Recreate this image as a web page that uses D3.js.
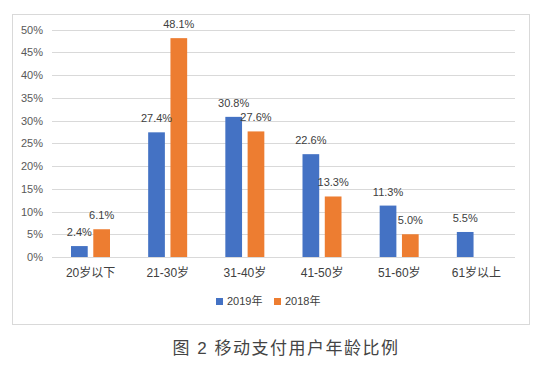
<!DOCTYPE html>
<meta charset="utf-8">
<script src="https://d3js.org/d3.v7.min.js"></script>
<style>
  body { margin: 0; background: #fff; }
  text { font-family: "Liberation Sans", "Noto Sans CJK SC", sans-serif; }
</style>
<body>
<div id="chart"></div>
<script>
    var categories = ["20岁以下", "21-30岁", "31-40岁", "41-50岁", "51-60岁", "61岁以上"];
    var seriesNames = ["2019年", "2018年"];
    var values2019 = [2.4, 27.4, 30.8, 22.6, 11.3, 5.5];
    var values2018 = [6.1, 48.1, 27.6, 13.3, 5.0, null];
    var yTicks = [0, 5, 10, 15, 20, 25, 30, 35, 40, 45, 50];
    var colors = ["#4472C4", "#ED7D31"];

    var svg = d3.select("#chart")
      .append("svg")
        .attr("width", 550)
        .attr("height", 370);

    // outer chart box
    svg.append("rect")
        .attr("x", 12.5).attr("y", 14.5)
        .attr("width", 517).attr("height", 310)
        .attr("fill", "#fff")
        .attr("stroke", "#d9d9d9");

    var plotLeft = 52, plotRight = 515, plotTop = 29.5, plotBottom = 257;

    var y = d3.scaleLinear()
        .domain([0, 50])
        .range([plotBottom, plotTop]);

    var x0 = d3.scaleBand()
        .domain(categories)
        .range([plotLeft, plotRight]);

    var x1 = d3.scaleBand()
        .domain(seriesNames)
        .range([19, 58])
        .paddingInner(0.25);

    // gridlines
    svg.append("g")
      .selectAll("line")
      .data(yTicks)
      .enter()
      .append("line")
        .attr("x1", plotLeft).attr("x2", plotRight)
        .attr("y1", function(d) { return Math.round(y(d)) + 0.5; })
        .attr("y2", function(d) { return Math.round(y(d)) + 0.5; })
        .attr("stroke", "#d9d9d9");

    var yAxis = svg.append("g")
        .attr("transform", "translate(" + plotLeft + ",0)")
        .call(d3.axisLeft(y).tickValues(yTicks).tickSize(0).tickPadding(9)
          .tickFormat(function(d) { return d + "%"; }));
    yAxis.select(".domain").remove();
    yAxis.selectAll("text").attr("font-size", "11px").attr("fill", "#595959")
        .attr("font-family", "Liberation Sans, sans-serif");

    var xAxis = svg.append("g")
        .attr("transform", "translate(0," + plotBottom + ")")
        .call(d3.axisBottom(x0).tickSize(0).tickPadding(11));
    xAxis.select(".domain").remove();
    xAxis.selectAll("text").attr("font-size", "12px").attr("fill", "#404040")
        .attr("font-family", "Liberation Sans, Noto Sans CJK SC, sans-serif");

    var rows = [];
    categories.forEach(function(c, i) {
      [values2019, values2018].forEach(function(vals, j) {
        if (vals[i] != null) rows.push({ cat: c, series: seriesNames[j], value: vals[i], color: colors[j] });
      });
    });

    svg.append("g")
      .selectAll("rect")
      .data(rows)
      .enter()
      .append("rect")
        .attr("x", function(d) { return x0(d.cat) + x1(d.series); })
        .attr("y", function(d) { return y(d.value); })
        .attr("width", x1.bandwidth())
        .attr("height", function(d) { return plotBottom - y(d.value); })
        .attr("fill", function(d) { return d.color; });

    svg.append("g")
      .selectAll("text")
      .data(rows)
      .enter()
      .append("text")
        .attr("x", function(d) { return x0(d.cat) + x1(d.series) + x1.bandwidth() / 2; })
        .attr("y", function(d) { return y(d.value) - 10; })
        .attr("text-anchor", "middle")
        .attr("font-size", "11px")
        .attr("fill", "#404040")
        .text(function(d) { return d.value.toFixed(1) + "%"; });

    // legend
    var legend = svg.append("g").attr("transform", "translate(216,298)");
    var item = legend.selectAll("g")
      .data(seriesNames)
      .enter()
      .append("g")
        .attr("transform", function(d, i) { return "translate(" + (i * 58) + ",0)"; });
    item.append("rect")
        .attr("width", 7).attr("height", 7)
        .attr("fill", function(d, i) { return colors[i]; });
    item.append("text")
        .attr("x", 11).attr("y", 7)
        .attr("font-size", "11px")
        .attr("fill", "#404040")
        .text(function(d) { return d; });

    svg.append("text")
        .attr("x", 286).attr("y", 354)
        .attr("text-anchor", "middle")
        .attr("font-size", "17px")
        .attr("letter-spacing", "1.5px")
        .attr("fill", "#444")
        .attr("font-family", "Noto Sans CJK SC, sans-serif")
        .text("图 2 移动支付用户年龄比例");
</script>
</body>
